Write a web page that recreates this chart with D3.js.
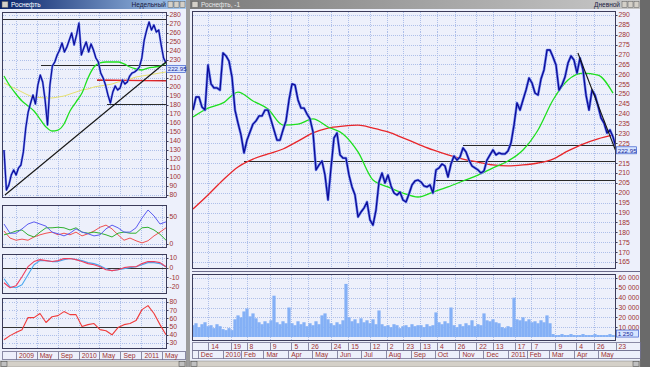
<!DOCTYPE html>
<html><head><meta charset="utf-8">
<script src="https://cdn.jsdelivr.net/npm/d3@7"></script>
<style>
html,body{margin:0;padding:0;background:#7c7c7c;overflow:hidden}
svg{display:block}
text{font-family:"Liberation Sans",Arial,sans-serif}
</style></head><body>
<svg id="c" width="650" height="367"></svg>
<script>
// ---------------- DATA ----------------
// Main window: daily close (sampled), Nov 2009 - May 2011
const mainClose = [241.9,248.5,248.5,243.4,241.9,264.7,255.1,253.1,253.1,252.0,
270.8,269.3,266.7,258.6,241.9,235.3,229.3,220.2,226.7,230.8,
234.8,236.4,238.9,238.9,241.9,241.9,236.9,231.8,226.7,226.7,
231.8,236.4,247.0,255.1,254.6,247.0,242.9,242.9,239.9,237.4,
230.8,211.6,214.1,216.1,209.0,196.4,212.6,227.8,230.3,219.2,
217.6,217.6,209.0,203.0,198.9,187.8,190.3,192.3,195.4,186.3,
183.7,191.3,205.5,210.0,205.0,209.0,203.5,199.9,198.9,200.4,
196.4,195.4,199.4,204.0,206.0,206.5,205.5,203.5,203.0,204.0,
199.9,211.6,212.6,214.6,213.6,208.0,214.6,218.6,216.6,218.1,
222.7,220.7,216.6,213.6,212.6,211.6,210.0,211.1,216.6,219.2,
221.7,219.2,220.2,219.7,219.7,221.2,225.2,234.3,245.5,241.9,
247.0,252.0,258.1,255.6,250.5,249.5,257.6,262.2,272.3,272.3,
268.7,264.7,252.0,254.6,258.6,265.7,269.3,267.2,260.6,268.2,
262.2,249.5,241.9,252.0,249.5,244.0,237.9,235.3,230.3,231.8,
228.3,223.0];
// volume, thousands, same sampling
const mainVolume = [12,14,10,13,15,11,12,9,13,11,
8,7,9,7,18,22,20,26,29,21,
24,19,15,13,16,14,17,42,15,13,
16,14,30,14,12,16,13,15,11,14,
12,16,13,22,24,18,14,12,15,13,
17,54,20,16,18,14,19,15,17,14,
18,13,27,13,11,12,10,13,12,9,
11,12,10,13,11,12,12,10,13,11,
12,25,15,13,16,14,30,12,10,13,
11,14,12,17,11,13,12,24,17,16,
18,15,14,10,9,11,10,40,18,17,
20,16,18,15,16,14,17,15,22,14,
3,2,2,3,2,2,3,2,2,2,
3,2,2,2,3,2,2,2,2,3,
2,2];
// moving averages, every 5th sample
const mainMA50 = [238.4,242.9,245.5,251.0,246.5,242.4,234.3,234.8,237.4,233.3,
229.8,220.7,206.5,203.0,199.9,197.9,200.4,203.0,206.0,209.0,
212.6,216.1,221.7,231.8,247.0,257.1,260.6,259.6,250.5];
const mainMA200 = [191.8,198.9,206.5,213.1,217.1,219.7,222.2,226.2,230.3,232.8,
233.8,234.3,232.8,230.8,227.8,224.7,221.7,219.2,217.1,215.6,
214.1,213.6,214.1,215.1,217.1,221.2,224.7,227.3,229.3];
const mainLevels = [216.1, 224.2, 206.5];
const mainLevelStart = [17, 90, 81];
const mainTrend = [[128.3, 270.8], [140.8, 221.7]];
const mainStart = "2009-11-25", mainEnd = "2011-05-23";
const mainPriceTicks = d3.range(165, 291, 5);
const volTicks = [10,20,30,40,50,60];
const volTickLabels = ["10 000","20 000","30 000","40 000","50 000","60 000"];
const dayTickDates = ["2009-12-14","2010-01-19","2010-02-08","2010-03-09","2010-04-05","2010-04-26","2010-05-24","2010-06-15","2010-07-12","2010-08-02","2010-08-23","2010-09-13","2010-10-04","2010-10-26","2010-11-22","2010-12-13","2011-01-17","2011-02-07","2011-03-09","2011-04-04","2011-04-26","2011-05-23"];
const dayTickLabels = ["14","19","8","9","5","26","24","15","12","2","23","13","4","26","22","13","17","7","9","4","26","23"];
const monthTickDates = ["2009-12-01","2010-01-01","2010-02-01","2010-03-01","2010-04-01","2010-05-01","2010-06-01","2010-07-01","2010-08-01","2010-09-01","2010-10-01","2010-11-01","2010-12-01","2011-01-01","2011-02-01","2011-03-01","2011-04-01","2011-05-01"];
const monthTickLabels = ["Dec","2010","Feb","Mar","Apr","May","Jun","Jul","Aug","Sep","Oct","Nov","Dec","2011","Feb","Mar","Apr","May"];

// Left window: weekly close (sampled), Oct 2008 - May 2011
const weeklyClose = [130.0,85.6,91.1,102.2,107.8,102.2,110.0,113.3,127.8,154.4,
172.2,182.2,191.1,181.1,202.2,213.3,205.6,185.6,157.8,202.2,
223.3,227.8,235.6,241.1,248.9,238.9,244.4,252.2,260.0,246.7,
257.8,271.1,235.6,243.3,250.0,238.9,247.8,241.1,232.2,227.8,
215.6,210.0,202.2,191.1,182.2,194.4,201.1,196.7,198.9,207.8,
203.3,205.6,212.2,215.6,216.7,218.9,222.2,232.2,252.2,263.3,
272.2,263.3,268.9,261.1,263.3,246.7,232.2,226.7];
const weeklyMAgreen = [212.2,201.1,192.2,184.4,178.9,173.3,164.4,155.6,151.1,152.2,
158.9,173.3,183.3,193.3,210.0,222.2,226.7,227.8,227.8,227.8,
225.6,222.2,220.0,218.9,221.1,222.2,223.3,226.7];
const weeklyMAyellow = [204.4,201.1,197.8,194.4,191.1,188.9,188.3,187.8,187.8,188.9,
190.0,192.2,194.4,196.7,197.8,200.0,201.1,202.2,203.3,205.6,
206.7,208.9,211.1,212.2,213.3,214.4,215.6,216.7];
const adxBlue  = [37,20,20,28,37,41,37,33,22,19,15,20,28,22,19,15,17,28,35,30,22,22,30,48,63,52,37,41];
const adxGreen = [17,20,24,26,17,13,22,30,30,31,30,26,30,22,20,22,20,17,13,20,22,20,20,30,31,26,18,7];
const adxRed   = [24,11,7,9,7,13,17,20,22,17,20,17,22,15,19,24,31,35,28,17,7,11,6,2,6,15,22,30];
const macdBlue = [-11.5,-19.8,-20.8,-17.7,-7.3,3.1,7.3,7.3,6.3,6.3,8.3,9.4,8.3,7.3,5.2,4.2,2.1,-1,-3.1,-2.1,-1,0,1,3.1,5.2,5.2,4.2,1];
const macdRed  = [-15.6,-20.8,-18.8,-9.4,1,6.3,8.3,7.3,6.3,7.3,9.4,9.4,8.3,6.3,4.2,3.1,1,-2.1,-3.1,-2.1,0,1,1,4.2,6.3,6.3,5.2,1];
const rsiRed   = [34,39,42.7,46.3,61,61,66,55,62,63.4,68.3,64.6,64.6,50,52.4,53.7,46.3,45,40,48.8,52.4,53.7,57.3,70.7,75.6,66,52.4,40];
const leftLevels = [275.6, 224.4, 207.8, 181.1];
const leftLevelStart = [-0.5, 15.3, 38.5, 42.6];
const leftRedSeg = [[38.5, 207.8], [67, 206.7]];
const leftTrend = [[0.4, 80], [67, 227.8]];
const leftStart = "2008-10-23", leftEnd = "2011-05-24";
const leftPriceTicks = d3.range(80, 281, 10);
const leftTickDates = ["2009-01-01","2009-05-01","2009-09-01","2010-01-01","2010-05-01","2010-09-01","2011-01-01","2011-05-01"];
const leftTickLabels = ["2009","May","Sep","2010","May","Sep","2011","May"];
const lastPrice = "222.95";

// ---------------- DRAW ----------------
const svg = d3.select("#c");
const BG = "#edf0fb", GRID = "#aebfe9", AXC = "#a03030", BRD = "#3c3c5a";
const NAVY = "#0c0c98", HALO = "#7186ee";
const parse = d3.timeParse("%Y-%m-%d");
const defs = svg.append("defs");

// window chrome
svg.append("rect").attr("x",0).attr("y",0).attr("width",650).attr("height",367).attr("fill","#858585");
svg.append("rect").attr("x",640).attr("y",0).attr("width",10).attr("height",367).attr("fill","#6a6a6a");
svg.append("rect").attr("x",0).attr("y",9).attr("width",186).attr("height",352).attr("fill",BG);
svg.append("rect").attr("x",190).attr("y",9).attr("width",450).attr("height",352).attr("fill",BG);
svg.append("rect").attr("x",186).attr("y",0).attr("width",4).attr("height",367).attr("fill","#9c9c9c");

function grad(id, c1, c2){
  const g = defs.append("linearGradient").attr("id",id);
  g.append("stop").attr("offset","0%").attr("stop-color",c1);
  g.append("stop").attr("offset","100%").attr("stop-color",c2);
}
grad("gAct","#0a246a","#a6caf0");
grad("gIn","#7a7a7a","#c8c8c8");
function titleBar(x,w,fill,left,right,tc){
  svg.append("rect").attr("x",x).attr("y",0).attr("width",w).attr("height",9).attr("fill",`url(#${fill})`);
  svg.append("rect").attr("x",x+2).attr("y",1.5).attr("width",6).attr("height",6).attr("fill","#d4d0c8").attr("stroke","#555").attr("stroke-width",0.5);
  svg.append("text").attr("x",x+11).attr("y",7).attr("font-size",6.5).attr("fill",tc).text(left);
  svg.append("text").attr("x",x+w-20).attr("y",7).attr("font-size",6.5).attr("fill","#1a1a40").attr("text-anchor","end").text(right);
  for(let k=0;k<3;k++){
    svg.append("rect").attr("x",x+w-18+k*6).attr("y",1.5).attr("width",5).attr("height",6).attr("fill","#d4d0c8").attr("stroke","#444").attr("stroke-width",0.4);
  }
}
titleBar(0,186,"gAct","Роснефть","Недельный","#ffffff");
titleBar(190,450,"gIn","Роснефть, -1","Дневной","#e8e8e8");

// scrollbars
[[0,186],[190,450]].forEach(([x,w])=>{
  svg.append("rect").attr("x",x).attr("y",361).attr("width",w).attr("height",6).attr("fill","#d4d0c8").attr("stroke","#808080").attr("stroke-width",0.5);
  svg.append("rect").attr("x",x+1).attr("y",361.5).attr("width",6).attr("height",5).attr("fill","#c0c0c0").attr("stroke","#404040").attr("stroke-width",0.5);
  svg.append("rect").attr("x",x+w-7).attr("y",361.5).attr("width",6).attr("height",5).attr("fill","#c0c0c0").attr("stroke","#404040").attr("stroke-width",0.5);
});

let clipN = 0;
function panel(p){
  const id = "cp"+(clipN++);
  defs.append("clipPath").attr("id",id).append("rect")
    .attr("x",p.x0).attr("y",p.y0).attr("width",p.x1-p.x0).attr("height",p.y1-p.y0);
  svg.append("rect").attr("x",p.x0).attr("y",p.y0).attr("width",p.x1-p.x0).attr("height",p.y1-p.y0).attr("fill",BG);
  return svg.append("g").attr("clip-path",`url(#${id})`);
}
function border(p){
  svg.append("rect").attr("x",p.x0).attr("y",p.y0).attr("width",p.x1-p.x0).attr("height",p.y1-p.y0)
    .attr("fill","none").attr("stroke",BRD).attr("stroke-width",1).attr("shape-rendering","crispEdges");
}
function hgrid(g,p,y,vals){
  vals.forEach(v=>g.append("line").attr("x1",p.x0).attr("x2",p.x1).attr("y1",Math.round(y(v))+0.5).attr("y2",Math.round(y(v))+0.5)
    .attr("stroke",GRID).attr("stroke-dasharray","1,1").attr("shape-rendering","crispEdges"));
}
function vgrid(g,p,xs){
  xs.forEach(x=>g.append("line").attr("y1",p.y0).attr("y2",p.y1).attr("x1",Math.round(x)+0.5).attr("x2",Math.round(x)+0.5)
    .attr("stroke",GRID).attr("stroke-dasharray","1,1").attr("shape-rendering","crispEdges"));
}
function ylabels(p,y,vals,fmt,dx){
  vals.forEach(v=>{
    svg.append("line").attr("x1",p.x1).attr("x2",p.x1+2).attr("y1",Math.round(y(v))+0.5).attr("y2",Math.round(y(v))+0.5).attr("stroke",BRD);
    svg.append("text").attr("x",p.x1+(dx||3)).attr("y",y(v)+2.4).attr("font-size",6.8).attr("fill",AXC).text(fmt?fmt(v):v);
  });
}
function path(g,data,x,y,color,w){
  g.append("path").datum(data).attr("fill","none").attr("stroke",color).attr("stroke-width",w)
    .attr("stroke-linejoin","round").attr("d",d3.line().x((d,i)=>x(i)).y(d=>y(d)));
}
function smooth(g,data,x,y,color,w){
  g.append("path").datum(data).attr("fill","none").attr("stroke",color).attr("stroke-width",w)
    .attr("d",d3.line().curve(d3.curveMonotoneX).x((d,i)=>x(i)).y(d=>y(d)));
}
function seg(g,a,b,x,y,color,w){
  g.append("line").attr("x1",x(a[0])).attr("y1",y(a[1])).attr("x2",x(b[0])).attr("y2",y(b[1]))
    .attr("stroke",color).attr("stroke-width",w||1);
}
function valueBox(x,yc,w,txt){
  svg.append("rect").attr("x",x).attr("y",yc-3.5).attr("width",w).attr("height",7).attr("fill","#d6e4ff").attr("stroke","#3a5ccc").attr("stroke-width",0.7);
  svg.append("text").attr("x",x+1.2).attr("y",yc+2.3).attr("font-size",6.2).attr("fill","#1a2a9a").text(txt);
}

// ===== MAIN WINDOW =====
const MP = {x0:192.5,y0:11.5,x1:615.5,y1:268.5};
const MV = {x0:192.5,y0:274.5,x1:615.5,y1:340.5};
const xIdx = d3.scaleLinear().domain([0, mainClose.length-1]).range([193, 616]);
const xMA = d3.scaleLinear().domain([0, mainMA50.length-1]).range([193, 613]);
// trading-day time axis: New-Year holidays (Jan 1-8) collapsed
const t0 = parse(mainStart);
function effDays(d){
  let n = d3.timeDay.count(t0, d);
  [2010,2011].forEach(Y=>{
    const a = new Date(Y,0,1), b = new Date(Y,0,9);
    if (d >= b) n -= 8; else if (d >= a) n -= d3.timeDay.count(a,d);
  });
  return n;
}
const xTime = d3.scaleLinear().domain([0, effDays(parse(mainEnd))]).range([193, 615.5]);
const xDate = s => xTime(effDays(parse(s)));
const yM = d3.scaleLinear().domain([165, 290]).range([262, 15]);
const yV = d3.scaleLinear().domain([0, 60]).range([337, 278]);

const gM = panel(MP);
hgrid(gM, MP, yM, mainPriceTicks);
vgrid(gM, MP, dayTickDates.map(xDate));
mainLevels.forEach((v,k)=>{
  gM.append("line").attr("x1",xIdx(mainLevelStart[k])).attr("x2",MP.x1).attr("y1",Math.round(yM(v))+0.5).attr("y2",Math.round(yM(v))+0.5)
    .attr("stroke","#2a2a2a").attr("stroke-width",1.2);
});
smooth(gM, mainMA200, xMA, yM, "#e8262a", 1.3);
smooth(gM, mainMA50, xMA, yM, "#1ee01e", 1.3);
path(gM, mainClose, xIdx, yM, HALO, 2.6);
path(gM, mainClose, xIdx, yM, NAVY, 1.3);
seg(gM, mainTrend[0], mainTrend[1], xIdx, yM, "#151515", 1.1);
border(MP);
ylabels(MP, yM, mainPriceTicks.filter(v=>v!==220));
valueBox(616.5, yM(222.95)+2.8, 20, lastPrice);

// splitter
svg.append("line").attr("x1",192).attr("x2",640).attr("y1",271.5).attr("y2",271.5).attr("stroke","#6a6a8a");

const gV = panel(MV);
hgrid(gV, MV, yV, volTicks);
vgrid(gV, MV, dayTickDates.map(xDate));
gV.selectAll("rect.v").data(mainVolume).enter().append("rect")
  .attr("x",(d,i)=>xIdx(i)-1.6).attr("width",3.2)
  .attr("y",d=>yV(d)).attr("height",d=>yV(0)-yV(d)).attr("fill","#84b0f6");
border(MV);
ylabels(MV, yV, volTicks, v=>volTickLabels[volTicks.indexOf(v)], 3);
valueBox(616.5, yV(3.5), 22, "1 250");

// date rows (main)
function dateRow(x0,x1,y0,h,xs,labels){
  svg.append("rect").attr("x",x0).attr("y",y0).attr("width",x1-x0).attr("height",h).attr("fill",BG)
    .attr("stroke","#707090").attr("stroke-width",0.8).attr("shape-rendering","crispEdges");
  xs.forEach((x,k)=>{
    svg.append("line").attr("x1",Math.round(x)+0.5).attr("x2",Math.round(x)+0.5).attr("y1",y0).attr("y2",y0+h)
      .attr("stroke","#707090").attr("stroke-width",0.8).attr("shape-rendering","crispEdges");
    svg.append("text").attr("x",Math.max(x,x0)+3).attr("y",y0+h-1.8).attr("font-size",6.8).attr("fill",AXC).text(labels[k]);
  });
}
dateRow(192.5,640,342.5,8,dayTickDates.map(xDate),dayTickLabels);
dateRow(192.5,640,350.5,8,monthTickDates.map(xDate),monthTickLabels);

// ===== LEFT WINDOW =====
const LP = {x0:2.5,y0:12.5,x1:166.5,y1:197.5};
const LA = {x0:2.5,y0:205.5,x1:166.5,y1:247.5};
const LM = {x0:2.5,y0:254.5,x1:166.5,y1:293.5};
const LR = {x0:2.5,y0:298.5,x1:166.5,y1:348.5};
const xW = d3.scaleLinear().domain([0, weeklyClose.length-1]).range([4, 166]);
const xI = d3.scaleLinear().domain([0, adxBlue.length-1]).range([4, 166]);
const tL = d3.scaleTime().domain([parse(leftStart), parse(leftEnd)]).range([4, 166]);
const leftTickX = leftTickDates.map(s=>tL(parse(s)));
const yL = d3.scaleLinear().domain([80, 280]).range([195, 15]);
const yA = d3.scaleLinear().domain([0, 50]).range([244, 217]);
const yMd = d3.scaleLinear().domain([-20, 10]).range([287, 258]);
const yR = d3.scaleLinear().domain([30, 80]).range([343, 302]);

const gL = panel(LP);
hgrid(gL, LP, yL, leftPriceTicks);
vgrid(gL, LP, leftTickX);
smooth(gL, weeklyMAyellow, xI, yL, "#e6e070", 1);
leftLevels.forEach((v,k)=>{
  gL.append("line").attr("x1",xW(leftLevelStart[k])).attr("x2",LP.x1).attr("y1",Math.round(yL(v))+0.5).attr("y2",Math.round(yL(v))+0.5)
    .attr("stroke","#2a2a2a").attr("stroke-width",1);
});
seg(gL, leftRedSeg[0], leftRedSeg[1], xW, yL, "#e8262a", 1.3);
smooth(gL, weeklyMAgreen, xI, yL, "#1ee01e", 1.3);
path(gL, weeklyClose, xW, yL, HALO, 2.2);
path(gL, weeklyClose, xW, yL, NAVY, 1.1);
seg(gL, leftTrend[0], leftTrend[1], xW, yL, "#151515", 1.1);
border(LP);
ylabels(LP, yL, leftPriceTicks.filter(v=>v!==220));
valueBox(166.5, yL(222.95)+2.5, 19, lastPrice);

const gA = panel(LA);
hgrid(gA, LA, yA, [0,50]);
vgrid(gA, LA, leftTickX);
path(gA, adxRed, xI, yA, "#f05050", 1);
path(gA, adxGreen, xI, yA, "#30b030", 1);
path(gA, adxBlue, xI, yA, "#5a5af0", 1);
border(LA);
ylabels(LA, yA, [0,50]);

const gMd = panel(LM);
hgrid(gMd, LM, yMd, [-20,-10,10]);
vgrid(gMd, LM, leftTickX);
gMd.append("line").attr("x1",LM.x0).attr("x2",LM.x1).attr("y1",Math.round(yMd(0))+0.5).attr("y2",Math.round(yMd(0))+0.5).attr("stroke","#333");
path(gMd, macdBlue, xI, yMd, "#4aa8f0", 1.1);
path(gMd, macdRed, xI, yMd, "#f04060", 1.1);
border(LM);
ylabels(LM, yMd, [-20,-10,0,10]);

const gR = panel(LR);
hgrid(gR, LR, yR, [30,40,60,70,80]);
vgrid(gR, LR, leftTickX);
gR.append("line").attr("x1",LR.x0).attr("x2",LR.x1).attr("y1",Math.round(yR(50))+0.5).attr("y2",Math.round(yR(50))+0.5).attr("stroke","#333");
path(gR, rsiRed, xI, yR, "#f03a3a", 1.1);
border(LR);
ylabels(LR, yR, [30,40,50,60,70,80]);

dateRow(2.5,185,351.5,8,leftTickX,leftTickLabels);
</script>
</body></html>
